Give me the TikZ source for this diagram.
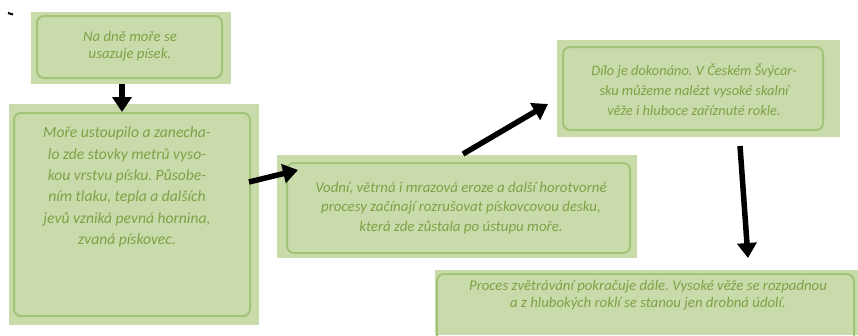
\documentclass[tikz,border=0pt]{standalone}
\usepackage{fontspec}
\setmainfont{Carlito}
\usetikzlibrary{arrows.meta}
\definecolor{boxfill}{HTML}{C9DBAA}
\definecolor{boxline}{HTML}{A3C378}
\definecolor{boxtext}{HTML}{7FA146}
\tikzset{
  box/.style={fill=boxfill, inner sep=0pt, outer sep=0pt},
  frame/.style={draw=boxline, line width=2pt, rounded corners=7pt},
  txt/.style={text=boxtext, align=center, inner sep=0pt, font=\itshape},
  arr/.style={line width=5.5pt, -{Triangle[length=15pt,width=19pt]}},
}
\begin{document}
\frenchspacing
\begin{tikzpicture}[x=1pt,y=-1pt]
\useasboundingbox (0,0) rectangle (858,335);
% boxes
\node[box, minimum width=200pt, minimum height=72pt] (b1) at (131,48) {};
\node[box, minimum width=250pt, minimum height=221pt] (b2) at (134,214.5) {};
\node[box, minimum width=360pt, minimum height=103pt] (b3) at (457,206.5) {};
\node[box, minimum width=283pt, minimum height=97pt] (b4) at (698.5,88.5) {};
\node[box, minimum width=423pt, minimum height=65pt] (b5) at (646.5,302.5) {};
% inner rounded frames
\draw[frame] ([shift={(6,4)}]b1.north west) rectangle ([shift={(-9,-6)}]b1.south east);
\draw[frame] ([shift={(5,9)}]b2.north west) rectangle ([shift={(-9,-9)}]b2.south east);
\draw[frame] ([shift={(10,8)}]b3.north west) rectangle ([shift={(-7,-5)}]b3.south east);
\draw[frame] ([shift={(6,7)}]b4.north west) rectangle ([shift={(-17,-7)}]b4.south east);
\draw[frame] ([shift={(2,4)}]b5.north west) rectangle ([shift={(-4,12)}]b5.south east);
% texts
\node[txt, font=\itshape\fontsize{14.8}{17}\selectfont] (t1) at (130,46.5) {Na dně moře se\\usazuje písek.};
\node[txt, font=\itshape\fontsize{15.6}{21.4}\selectfont] (t2) at (127,187) {Moře ustoupilo a zanecha-\\lo zde stovky metrů vyso-\\kou vrstvu písku. Působe-\\ním tlaku, tepla a dalších\\jevů vzniká pevná hornina,\\zvaná pískovec.};
\node[txt, font=\itshape\fontsize{14.9}{19.5}\selectfont] (t3) at (461,208) {Vodní, větrná i mrazová eroze a další horotvorné\\procesy začínají rozrušovat pískovcovou desku,\\která zde zůstala po ústupu moře.};
\node[txt, font=\itshape\fontsize{14.4}{20}\selectfont] (t4) at (694,90) {Dílo je dokonáno. V Českém Švýcar-\\sku můžeme nalézt vysoké skalní\\věže i hluboce zaříznuté rokle.};
\node[txt, font=\itshape\fontsize{14.8}{16.5}\selectfont] (t5) at (648,295) {Proces zvětrávání pokračuje dále. Vysoké věže se rozpadnou\\a z hlubokých roklí se stanou jen drobná údolí.};
% arrows
\draw[arr] ([xshift=-9pt]b1.south) -- ([shift={(-12,8)}]b2.north);
\draw[arr] ([shift={(-10,-32.5)}]b2.east) -- ([shift={(21,-36.5)}]b3.west);
\draw[arr] ([shift={(6,-1)}]b3.north) -- ([shift={(-9,15.5)}]b4.west);
\draw[arr] ([shift={(41.5,9)}]b4.south) -- ([shift={(101.5,-12)}]b5.north);
% small mark
\draw[line width=2pt] (8,13) -- (13,14.5);
\end{tikzpicture}
\end{document}
